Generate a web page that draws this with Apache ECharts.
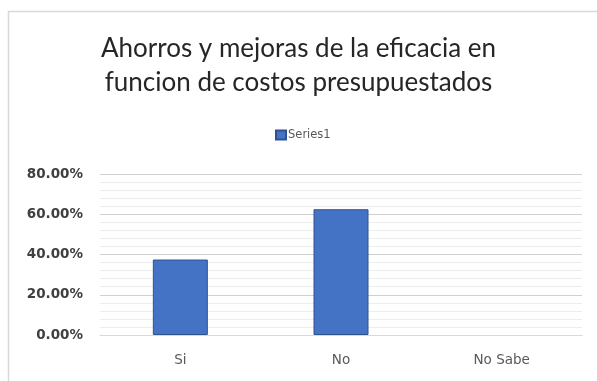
<!DOCTYPE html>
<html>
<head>
<meta charset="utf-8">
<script src="https://cdn.jsdelivr.net/npm/echarts@6/dist/echarts.min.js"></script>
<style>
  html, body { margin: 0; padding: 0; background: #ffffff; }
  #chart { width: 597px; height: 381px; }
</style>
</head>
<body>
<div id="chart"></div>
<script>
// Survey answers and their share of respondents (percent)
const categories = ['Si', 'No', 'No Sabe'];
const seriesName = 'Series1';
const values = [37.5, 62.5, 0];
const yTicks = [0, 20, 40, 60, 80];

const chart = echarts.init(document.getElementById('chart'), null, { renderer: 'canvas' });

// zero-height bars get no outline so nothing is drawn for them
const barData = values.map(v => ({
  value: v,
  itemStyle: v === 0 ? { borderWidth: 0, opacity: 0 } : {}
}));

chart.setOption({
  backgroundColor: '#ffffff',
  animation: false,
  graphic: [{
    type: 'rect',
    shape: { x: 8.5, y: 11.5, width: 620, height: 400 },
    style: { fill: 'none', stroke: '#d9d9d9', lineWidth: 1.5 },
    silent: true,
    z: -1
  }],
  title: {
    text: 'Ahorros y mejoras de la eficacia en\nfuncion de costos presupuestados',
    left: 'center',
    top: 27,
    textStyle: {
      fontFamily: 'Lato',
      fontWeight: 'normal',
      fontSize: 26,
      lineHeight: 34,
      color: '#262626'
    }
  },
  legend: {
    data: [seriesName],
    top: 124,
    left: 270,
    itemWidth: 10,
    itemHeight: 9,
    itemGap: 4,
    icon: 'rect',
    textStyle: { fontFamily: 'DejaVu Sans', fontSize: 11.5, color: '#595959', padding: [0, 0, 0, -3] }
  },
  grid: {
    left: 100,
    right: 15,
    top: 174,
    bottom: 46,
    containLabel: false
  },
  xAxis: {
    type: 'category',
    data: categories,
    axisLine: { show: true, lineStyle: { color: '#d9d9d9' } },
    axisTick: { show: false },
    axisLabel: { margin: 18, fontFamily: 'DejaVu Sans', fontSize: 13.5, color: '#595959' }
  },
  yAxis: {
    type: 'value',
    min: yTicks[0],
    max: yTicks[yTicks.length - 1],
    interval: 20,
    axisLine: { show: false },
    axisTick: { show: false },
    axisLabel: {
      margin: 17,
      fontFamily: 'DejaVu Sans',
      fontWeight: 'bold',
      fontSize: 13.5,
      color: '#404040',
      formatter: v => v.toFixed(2) + '%'
    },
    splitLine: { show: true, lineStyle: { color: '#d0d0d0', width: 1 } },
    minorTick: { show: false, splitNumber: 5 },
    minorSplitLine: { show: true, lineStyle: { color: '#ececec', width: 1 } }
  },
  series: [{
    name: seriesName,
    type: 'bar',
    data: barData,
    barWidth: 55,
    itemStyle: {
      color: '#4472c4',
      borderColor: '#2f528f',
      borderWidth: 1
    }
  }]
});
</script>
</body>
</html>
